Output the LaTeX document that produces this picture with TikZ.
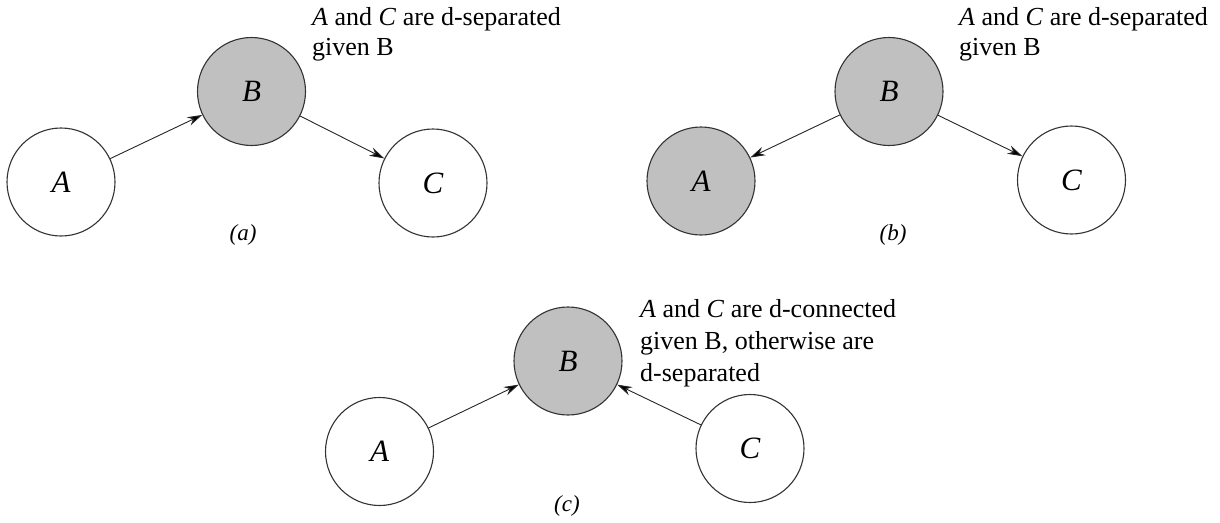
\documentclass[tikz,border=0pt]{standalone}
\usepackage{fontspec}
\setmainfont{Liberation Serif}
\usetikzlibrary{arrows.meta}
\definecolor{nodegray}{RGB}{192,192,192}
\tikzset{
  var/.style={circle, draw=black!80, line width=1.1pt, minimum size=108pt, inner sep=0pt,
    font=\fontsize{31}{31}\selectfont\itshape},
  obs/.style={var, fill=nodegray},
  edge/.style={draw=black!85, line width=0.9pt, -{Stealth[length=15pt,width=9pt,fill=black]}},
  note/.style={anchor=base west, inner sep=0pt, font=\fontsize{26}{31}\selectfont},
  sublabel/.style={font=\fontsize{23}{23}\selectfont\itshape, inner sep=0pt}
}
\begin{document}
\begin{tikzpicture}[x=1pt,y=-1pt]
\useasboundingbox (0,0) rectangle (1220,522);
% (a)
\node[var] (aA) at (61,182) {A};
\node[obs] (aB) at (251.5,91.5) {B};
\node[var] (aC) at (433,183) {C};
\draw[edge] (aA) -- (aB);
\draw[edge] (aB) -- (aC);
\node[note] (at1) at (312,25) {\textit{A} and \textit{C} are d-separated};
\node[note] (at2) at (312,55) {given B};
\node[sublabel] (alab) at (243,235) {(a)};
% (b)
\node[obs] (bA) at (701,181) {A};
\node[obs] (bB) at (889,91.5) {B};
\node[var] (bC) at (1071.5,180) {C};
\draw[edge] (bB) -- (bA);
\draw[edge] (bB) -- (bC);
\node[note] (bt1) at (959,25) {\textit{A} and \textit{C} are d-separated};
\node[note] (bt2) at (959,55) {given B};
\node[sublabel] (blab) at (893,235) {(b)};
% (c)
\node[var] (cA) at (379.5,451.5) {A};
\node[obs] (cB) at (568,361) {B};
\node[var] (cC) at (750,448.5) {C};
\draw[edge] (cA) -- (cB);
\draw[edge] (cC) -- (cB);
\node[note] (ct1) at (640,317) {\textit{A} and \textit{C} are d-connected};
\node[note] (ct2) at (640,349) {given B, otherwise are};
\node[note] (ct3) at (640,381) {d-separated};
\node[sublabel] (clab) at (567,506) {(c)};
\end{tikzpicture}
\end{document}
